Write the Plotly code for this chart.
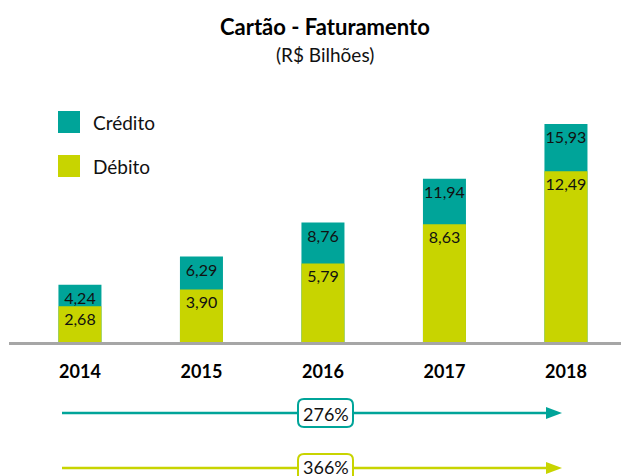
import plotly.graph_objects as go

years = ["2014", "2015", "2016", "2017", "2018"]
credito = [4.24, 6.29, 8.76, 11.94, 15.93]
debito = [2.68, 3.90, 5.79, 8.63, 12.49]

TEAL = "#00a499"
LIME = "#c8d400"
GREY = "#a6a6a6"
FONT = "Lato"

W, H = 621, 476
BASE = 343  # pixel row of the baseline
PLOT_H = BASE


def fmt(v):
    return f"{v:.2f}".replace(".", ",")


def px(xp):
    return xp / W


def py(yp):
    return (BASE - yp) / PLOT_H


fig = go.Figure()
fig.add_trace(go.Bar(
    x=years, y=credito, name="Crédito", marker=dict(color=TEAL, line=dict(width=0)),
    width=0.354, text=[fmt(v) for v in credito], textposition="inside", textangle=0,
    insidetextanchor="end", constraintext="none",
    textfont=dict(family=FONT, size=16, color="#111111"), hoverinfo="skip"))
fig.add_trace(go.Bar(
    x=years, y=debito, name="Débito", marker=dict(color=LIME, line=dict(width=0)),
    width=0.354, text=[fmt(v) for v in debito], textposition="inside", textangle=0,
    insidetextanchor="end", constraintext="none",
    textfont=dict(family=FONT, size=16, color="#111111"), hoverinfo="skip"))

shapes = []
annotations = []

# baseline
shapes.append(dict(type="line", xref="paper", yref="paper", x0=px(9), x1=1,
                   y0=py(343.5), y1=py(343.5), line=dict(color=GREY, width=3)))

# legend
for (label, col, top) in [("Crédito", TEAL, 111), ("Débito", LIME, 155)]:
    shapes.append(dict(type="rect", xref="paper", yref="paper", x0=px(58), x1=px(80),
                       y0=py(top + 22), y1=py(top), fillcolor=col, line=dict(width=0)))
    annotations.append(dict(text=label, xref="paper", yref="paper", x=px(91), y=py(top + 11),
                            xanchor="left", yanchor="middle", showarrow=False,
                            font=dict(family=FONT, size=19, color="#111111")))

# title
annotations.append(dict(text="<b>Cartão - Faturamento</b>", xref="paper", yref="paper",
                        x=px(325), y=py(27), xanchor="center", yanchor="middle", showarrow=False,
                        font=dict(family=FONT, size=22, color="#000000")))
annotations.append(dict(text="(R$ Bilhões)", xref="paper", yref="paper",
                        x=px(325), y=py(55), xanchor="center", yanchor="middle", showarrow=False,
                        font=dict(family=FONT, size=19, color="#111111")))

# growth arrows
growth_credito = round((credito[-1] / credito[0] - 1) * 100)
growth_debito = round((debito[-1] / debito[0] - 1) * 100)


def rounded_rect(x0, y0, x1, y1, r):
    pts = [
        f"M{px(x0 + r)},{py(y0)}",
        f"L{px(x1 - r)},{py(y0)}",
        f"Q{px(x1)},{py(y0)} {px(x1)},{py(y0 + r)}",
        f"L{px(x1)},{py(y1 - r)}",
        f"Q{px(x1)},{py(y1)} {px(x1 - r)},{py(y1)}",
        f"L{px(x0 + r)},{py(y1)}",
        f"Q{px(x0)},{py(y1)} {px(x0)},{py(y1 - r)}",
        f"L{px(x0)},{py(y0 + r)}",
        f"Q{px(x0)},{py(y0)} {px(x0 + r)},{py(y0)}",
        "Z",
    ]
    return " ".join(pts)


for (val, col, yc, ty) in [(growth_credito, TEAL, 413, 414), (growth_debito, LIME, 468, 466.5)]:
    shapes.append(dict(type="line", xref="paper", yref="paper", x0=px(62), x1=px(548),
                       y0=py(yc), y1=py(yc), line=dict(color=col, width=2.5)))
    shapes.append(dict(type="path", xref="paper", yref="paper",
                       path=f"M{px(546)},{py(yc - 6)} L{px(562)},{py(yc)} L{px(546)},{py(yc + 6)} Z",
                       fillcolor=col, line=dict(width=0)))
    shapes.append(dict(type="path", xref="paper", yref="paper",
                       path=rounded_rect(298, yc - 14, 353, yc + 14, 6),
                       fillcolor="white", line=dict(color=col, width=2)))
    annotations.append(dict(text=f"{val}%", xref="paper", yref="paper", x=px(325.5), y=py(ty),
                            xanchor="center", yanchor="middle", showarrow=False,
                            font=dict(family=FONT, size=18, color="#111111")))

fig.update_layout(
    width=W, height=H,
    margin=dict(l=0, r=0, t=0, b=H - BASE, pad=0),
    barmode="overlay",
    showlegend=False,
    plot_bgcolor="white", paper_bgcolor="white",
    shapes=shapes, annotations=annotations,
    xaxis=dict(type="category", range=[-0.658, 4.453], showgrid=False, zeroline=False,
               showline=False, ticks="outside", ticklen=12, tickcolor="rgba(0,0,0,0)",
               tickfont=dict(family=FONT, size=18, color="#000000"),
               ticktext=[f"<b>{y}</b>" for y in years], tickvals=years, fixedrange=True),
    yaxis=dict(range=[0, max(credito) * PLOT_H / 219], visible=False, fixedrange=True),
    uniformtext=dict(mode=False),
)

fig.write_html("out.html", config={"displayModeBar": False},
               post_script="document.body.style.margin='0';document.body.style.overflow='hidden';")
